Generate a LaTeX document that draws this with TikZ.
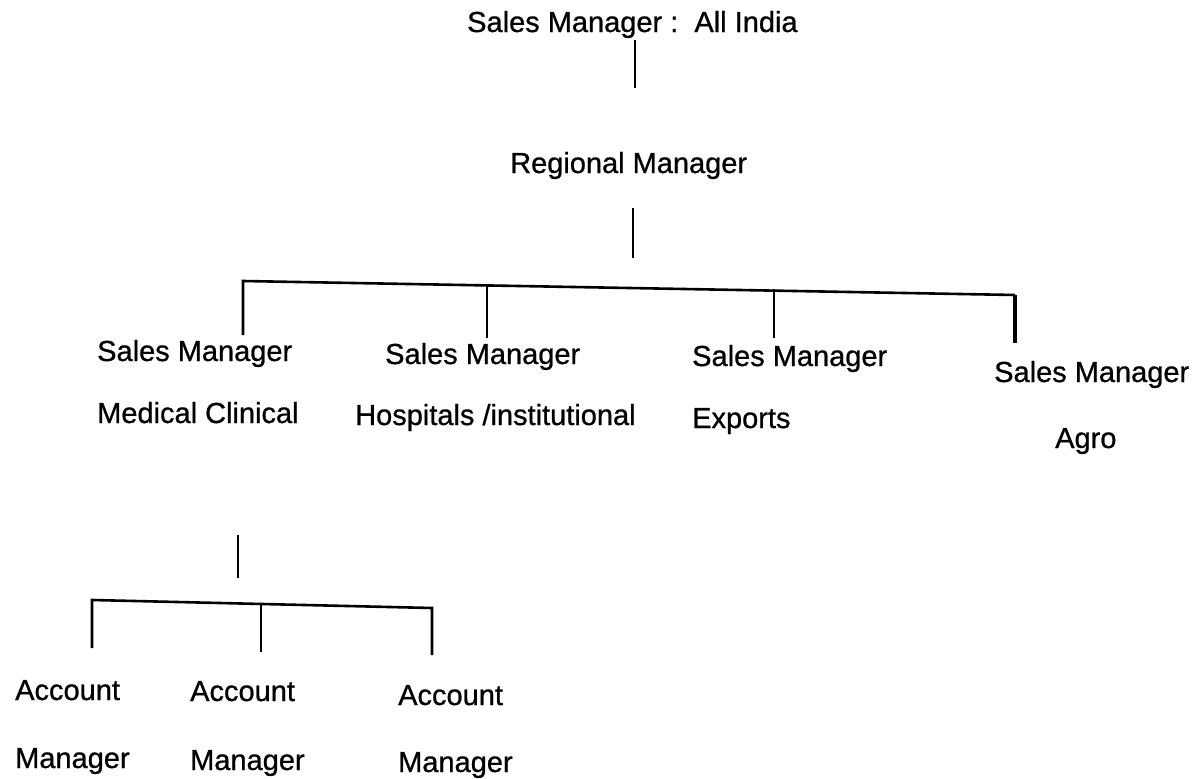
\documentclass[tikz,border=0pt]{standalone}
\usepackage{fontspec}
\setmainfont{Liberation Sans}[FakeBold=0.8]
\begin{document}
\begin{tikzpicture}[x=1pt,y=-1pt,
  lbl/.style={anchor=base west, inner sep=0pt, font=\fontsize{29}{34}\selectfont},
  conn/.style={line width=2pt, line cap=butt},
  bus/.style={line width=2.6pt, line join=miter},
  thick tick/.style={line width=4pt}]
\useasboundingbox (0,0) rectangle (1195,779);
% texts
\node[lbl] (top)  at (467,32)  {Sales Manager :\ \ All India};
\node[lbl] (rm)   at (510,173) {Regional Manager};
\node[lbl] (sm1)  at (97,361)  {Sales Manager};
\node[lbl] (mc)   at (97,423)  {Medical Clinical};
\node[lbl] (sm2)  at (385,364) {Sales Manager};
\node[lbl] (hosp) at (355,425) {Hospitals /institutional};
\node[lbl] (sm3)  at (692,366) {Sales Manager};
\node[lbl] (exp)  at (692,428) {Exports};
\node[lbl] (sm4)  at (994,382) {Sales Manager};
\node[lbl] (agro) at (1055,448) {Agro};
\node[lbl] (a1) at (15,700)  {Account};
\node[lbl] (m1) at (15,768)  {Manager};
\node[lbl] (a2) at (190,701) {Account};
\node[lbl] (m2) at (190,770) {Manager};
\node[lbl] (a3) at (398,705) {Account};
\node[lbl] (m3) at (398,772) {Manager};
% coordinates
\coordinate (t1) at (635,40);  \coordinate (t2) at (635,88);
\coordinate (r1) at (633,208); \coordinate (r2) at (633,258);
\coordinate (b1) at (243,281); \coordinate (b1e) at (243,335);
\coordinate (b2) at (487,285.4); \coordinate (b2e) at (487,338);
\coordinate (b3) at (774,289); \coordinate (b3e) at (774,338);
\coordinate (b4) at (1015,295); \coordinate (b4e) at (1015,343);
\coordinate (c0) at (238,535); \coordinate (c0e) at (238,578);
\coordinate (c1) at (92,600);  \coordinate (c1e) at (92,648);
\coordinate (c2) at (261,604); \coordinate (c2e) at (261,652);
\coordinate (c3) at (432,608); \coordinate (c3e) at (432,655);
% connectors
\draw[conn] (t1) -- (t2);
\draw[conn] (r1) -- (r2);
\draw[bus] (b1e) -- (b1) -- (b4);
\draw[conn] (b2) -- (b2e);
\draw[conn] (b3) -- (b3e);
\draw[thick tick] (b4) -- (b4e);
\draw[conn] (c0) -- (c0e);
\draw[bus] (c1e) -- (c1) -- (c3) -- (c3e);
\draw[conn] (c2) -- (c2e);
\end{tikzpicture}
\end{document}
